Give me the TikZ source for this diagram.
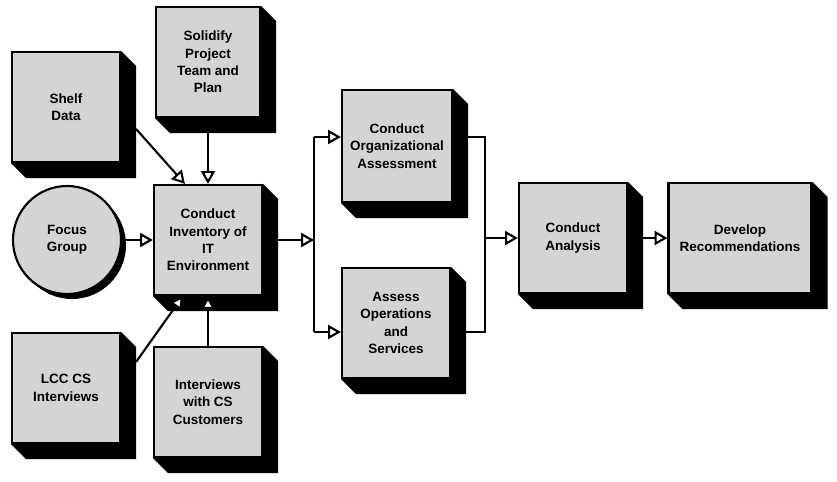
\documentclass[tikz,border=0pt]{standalone}
\usepackage{fontspec}
\setmainfont{Liberation Sans}
\usetikzlibrary{arrows.meta,backgrounds}

\begin{document}
\begin{tikzpicture}[x=0.03cm, y=-0.03cm, line width=1.8pt,
    every node/.style={font=\bfseries\fontsize{11.5}{14.8}\selectfont, align=center, inner sep=0pt},
    block/.style={draw, fill=black!17, minimum width=3.24cm, minimum height=3.3cm},
    link/.style={-{Triangle[open, fill=white, length=11pt, width=12pt]}}]

    \useasboundingbox (0,0) rectangle (837,482);

    \node[block] (shelf) at (66,107) {Shelf\\Data};
    \node[block, minimum width=3.12cm] (plan) at (208,62) {Solidify\\Project\\Team and\\Plan};
    \node[block] (inv) at (208,240) {Conduct\\Inventory of\\IT\\Environment};
    \node[draw, circle, fill=black!17, minimum size=3.24cm] (focus) at (67,240) {Focus\\Group};
    \node[block] (lcc) at (66,388) {LCC CS\\Interviews};
    \node[block] (cust) at (208,402) {Interviews\\with CS\\Customers};
    \node[block, minimum width=3.3cm, minimum height=3.36cm] (org) at (397,146) {Conduct\\Organizational\\Assessment};
    \node[block] (ops) at (396,323) {Assess\\Operations\\and\\Services};
    \node[block] (anl) at (573,238) {Conduct\\Analysis};
    \node[block, minimum width=4.29cm] (rec) at (740,238) {Develop\\Recommendations};

    % 3d sides of the blocks
    \begin{scope}[on background layer]
      \foreach \n in {shelf,plan,inv,lcc,cust,org,ops,anl,rec} {
        \fill (\n.north east) -- ++(15,15) -- ([shift={(15,15)}]\n.south east)
          -- ([shift={(15,15)}]\n.south west) -- (\n.south west) -- cycle;
      }
      \fill ([shift={(5,5)}]focus.center) circle (1.62cm);
    \end{scope}

    \coordinate (sm) at (314,240);
    \coordinate (st) at (314,137);
    \coordinate (sb) at (314,332);
    \coordinate (mt) at (485,137);
    \coordinate (mb) at (485,332);
    \coordinate (mm) at (485,238);

    % Inputs to the inventory
    \draw[link] ([shift={(15,78)}]shelf.north east) -- ([shift={(32,0)}]inv.north west);
    \draw[link] (plan.south) -- (inv.north);
    \draw[link] (focus) -- (inv);
    \draw[link] ([shift={(15,30)}]lcc.north east) -- ([shift={(30,0)}]inv.south west);
    \draw[link] (cust.north) -- (inv.south);

    % Split and merge
    \draw[link] (inv) -- (sm);
    \draw (st) -- (sb);
    \draw[link] (st) -- (st -| org.west);
    \draw[link] (sb) -- (sb -| ops.west);
    \draw (org.east |- mt) -- (mt) -- (mb) -- (ops.east |- mb);
    \draw[link] (mm) -- (anl);
    \draw[link] (anl) -- (rec);

  \end{tikzpicture}
\end{document}
